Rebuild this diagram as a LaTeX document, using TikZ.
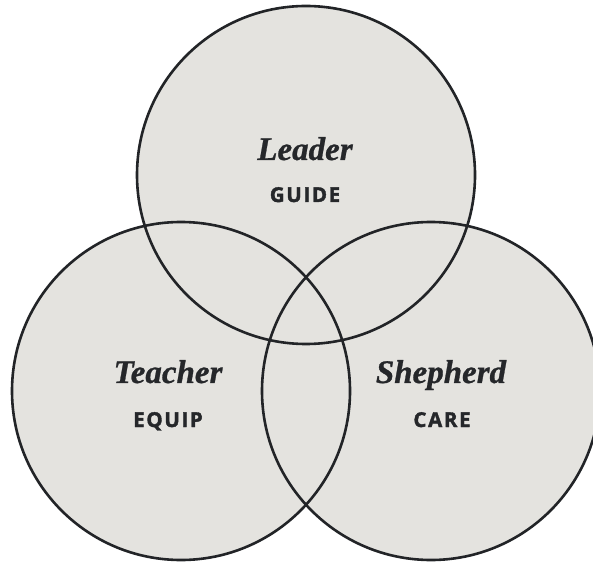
\documentclass[tikz,border=0pt]{standalone}
\usepackage{fontspec}
\setmainfont{Liberation Serif}[BoldItalicFeatures={FakeBold=0.8}]
\newfontfamily\capsfont[LetterSpace=8,FakeBold=1.8]{Open Sans Bold}
\definecolor{vennfill}{HTML}{E4E3DF}
\definecolor{vennline}{HTML}{222427}
\definecolor{venntext}{HTML}{25272A}
\tikzset{
  venncircle/.style={fill=vennfill},
  vennedge/.style={draw=vennline, line width=2.6pt},
  roletext/.style={anchor=base, text=venntext, inner sep=0pt, font=\fontsize{33}{36}\selectfont\bfseries\itshape},
  tasktext/.style={anchor=base, text=venntext, inner sep=0pt, font=\fontsize{20.5}{23}\selectfont\capsfont},
}
\begin{document}
\begin{tikzpicture}[x=1pt,y=1pt]
\useasboundingbox (0,0) rectangle (593,562);
\begin{scope}
\clip (0,0) rectangle (593,562);
\coordinate (ctop) at (306,387);
\coordinate (cleft) at (181,171);
\coordinate (cright) at (431,171);
\fill[venncircle] (ctop) circle[radius=169];
\fill[venncircle] (cleft) circle[radius=169];
\fill[venncircle] (cright) circle[radius=169];
\draw[vennedge] (ctop) circle[radius=169];
\draw[vennedge] (cleft) circle[radius=169];
\draw[vennedge] (cright) circle[radius=169];
\end{scope}
\node[roletext] (leader) at (305,402) {Leader};
\node[tasktext] (guide) at (305,360) {GUIDE};
\node[roletext] (teacher) at (168,179) {Teacher};
\node[tasktext] (equip) at (168,135) {EQUIP};
\node[roletext] (shepherd) at (441,179) {Shepherd};
\node[tasktext] (care) at (442,135) {CARE};
\end{tikzpicture}
\end{document}
